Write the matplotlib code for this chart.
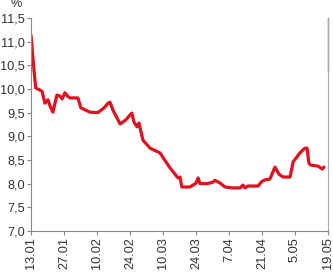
import matplotlib
matplotlib.use("Agg")
import matplotlib.pyplot as plt

days = [0, 1, 2, 3.7, 4.7, 5.9, 7.2, 8, 9.3, 11, 12.3, 13.2, 14.4, 15.7, 16.5,
        19.9, 21.2, 25, 28.4, 31, 32.7, 33.5, 34.8, 37.8, 40.3, 42, 42.8, 43.7,
        45, 45.8, 47.5, 50.5, 54.7, 59, 62.4, 63.2, 64, 67.5, 70, 70.9, 71.7,
        74.7, 77.2, 78, 80, 82.3, 85.3, 88.7, 89.9, 90.8, 92, 96.3, 98, 99.3,
        101.4, 103.5, 105.2, 106.9, 109.9, 111.2, 114.1, 116.2, 117.1, 117.9,
        118.8, 121.8, 123.5, 124.3]
rate = [11.14, 10.55, 10.02, 9.98, 9.95, 9.70, 9.77, 9.65, 9.51, 9.87, 9.85,
        9.79, 9.92, 9.84, 9.81, 9.81, 9.60, 9.51, 9.50, 9.60, 9.70, 9.72, 9.55,
        9.26, 9.35, 9.45, 9.49, 9.30, 9.20, 9.28, 8.92, 8.75, 8.65, 8.33, 8.12,
        8.14, 7.93, 7.93, 8.01, 8.12, 8.00, 8.00, 8.03, 8.07, 8.02, 7.93, 7.91,
        7.91, 7.97, 7.91, 7.95, 7.95, 8.05, 8.08, 8.10, 8.35, 8.20, 8.14, 8.14,
        8.46, 8.65, 8.75, 8.75, 8.43, 8.39, 8.37, 8.31, 8.35]

xtick_pos = [0, 14, 28, 42, 56, 70, 84, 98, 112, 126]
xtick_labels = ["13.01", "27.01", "10.02", "24.02", "10.03", "24.03", "7.04",
                "21.04", "5.05", "19.05"]
ytick_vals = [7.0, 7.5, 8.0, 8.5, 9.0, 9.5, 10.0, 10.5, 11.0, 11.5]
ytick_labels = ["7,0", "7,5", "8,0", "8,5", "9,0", "9,5", "10,0", "10,5",
                "11,0", "11,5"]

plt.rcParams['font.family'] = ['Liberation Sans', 'DejaVu Sans']
txt = '#333333'
gray = '#888888'

fig = plt.figure(figsize=(3.33, 2.8), dpi=100)
ax = fig.add_axes([0.093, 0.175, 0.892, 0.761])
ax.plot(days, rate, color='#e0101f', lw=2.3, solid_joinstyle='round',
        solid_capstyle='round')
ax.set_xlim(0, 126)
ax.set_ylim(7.0, 11.5)
ax.set_xticks(xtick_pos)
ax.set_xticklabels(xtick_labels, rotation=90, fontsize=9.2, color=txt)
ax.set_yticks(ytick_vals)
ax.set_yticklabels(ytick_labels, fontsize=9.2, color=txt)
ax.tick_params(axis='both', length=3, width=0.8, color=gray, pad=1.5)
for s in ['left', 'bottom']:
    ax.spines[s].set_color(gray)
    ax.spines[s].set_linewidth(0.8)
ax.spines['right'].set_color('#aaaaaa')
ax.spines['right'].set_linewidth(0.8)
ax.spines['top'].set_visible(False)
ax.plot([126, 126], [10.4, 11.5], color='black', lw=0.9, clip_on=False)
ax.text(-0.05, 1.035, '%', transform=ax.transAxes, fontsize=9.2, color=txt,
        ha='center', va='bottom')
fig.savefig('out.png', dpi=100)
